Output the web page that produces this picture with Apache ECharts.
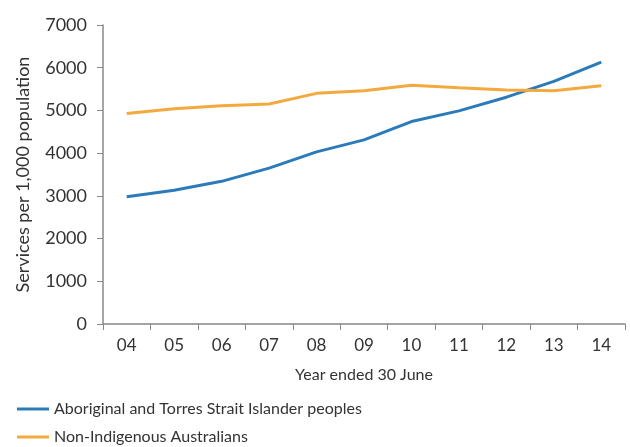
<!DOCTYPE html>
<html>
<head>
<meta charset="utf-8">
<script src="https://cdn.jsdelivr.net/npm/echarts@6/dist/echarts.min.js"></script>
<style>
  html, body { margin: 0; padding: 0; background: #fff; }
  #line { width: 630px; height: 447px; }
</style>
</head>
<body>
<div id="line"></div>
<script>
var years = ['04', '05', '06', '07', '08', '09', '10', '11', '12', '13', '14'];
var indigenous = [2980, 3130, 3340, 3650, 4030, 4310, 4740, 4990, 5310, 5680, 6130];
var nonIndigenous = [4930, 5040, 5110, 5150, 5400, 5460, 5590, 5530, 5480, 5460, 5580];
var yTicks = [0, 1000, 2000, 3000, 4000, 5000, 6000, 7000];

var myChart = echarts.init(document.getElementById('line'));
var font = 'Lato, "Open Sans", sans-serif';
option = {
    textStyle: { fontFamily: font },
    grid: { left: 103, right: 5, top: 25, bottom: 123 },
    legend: {
        orient: 'vertical',
        left: 12,
        top: 399,
        height: 48,
        icon: 'rect',
        itemWidth: 32,
        itemHeight: 3,
        itemGap: 12,
        padding: [2, 5],
        textStyle: { fontSize: 16, color: '#333', fontFamily: font },
        data: ['Aboriginal and Torres Strait Islander peoples', 'Non-Indigenous Australians']
    },
    xAxis: {
        type: 'category',
        data: years,
        boundaryGap: true,
        name: 'Year ended 30 June',
        nameLocation: 'middle',
        nameGap: 43,
        nameTextStyle: { fontSize: 16, color: '#333' },
        axisLine: { lineStyle: { color: '#888', width: 1.5 } },
        axisTick: { show: true, length: 6, lineStyle: { color: '#888' } },
        axisLabel: { fontSize: 17, color: '#333', margin: 13 }
    },
    yAxis: {
        type: 'value',
        min: yTicks[0],
        max: yTicks[yTicks.length - 1],
        interval: 1000,
        name: 'Services per 1,000 population',
        nameLocation: 'middle',
        nameGap: 71,
        nameTextStyle: { fontSize: 18, color: '#333' },
        axisLine: { show: true, lineStyle: { color: '#888', width: 1.5 } },
        axisTick: { show: true, length: 6, lineStyle: { color: '#888' } },
        axisLabel: { fontSize: 18, color: '#333', margin: 16, formatter: function (v) { return String(v); } },
        splitLine: { show: false }
    },
    series: [{
        name: 'Aboriginal and Torres Strait Islander peoples',
        type: 'line',
        data: indigenous,
        symbol: 'none',
        color: '#2b7bba',
        lineStyle: { width: 3, color: '#2b7bba' }
    }, {
        name: 'Non-Indigenous Australians',
        type: 'line',
        data: nonIndigenous,
        symbol: 'none',
        color: '#f4a93e',
        lineStyle: { width: 3, color: '#f4a93e' }
    }]
};
myChart.setOption(option);
</script>
</body>
</html>
